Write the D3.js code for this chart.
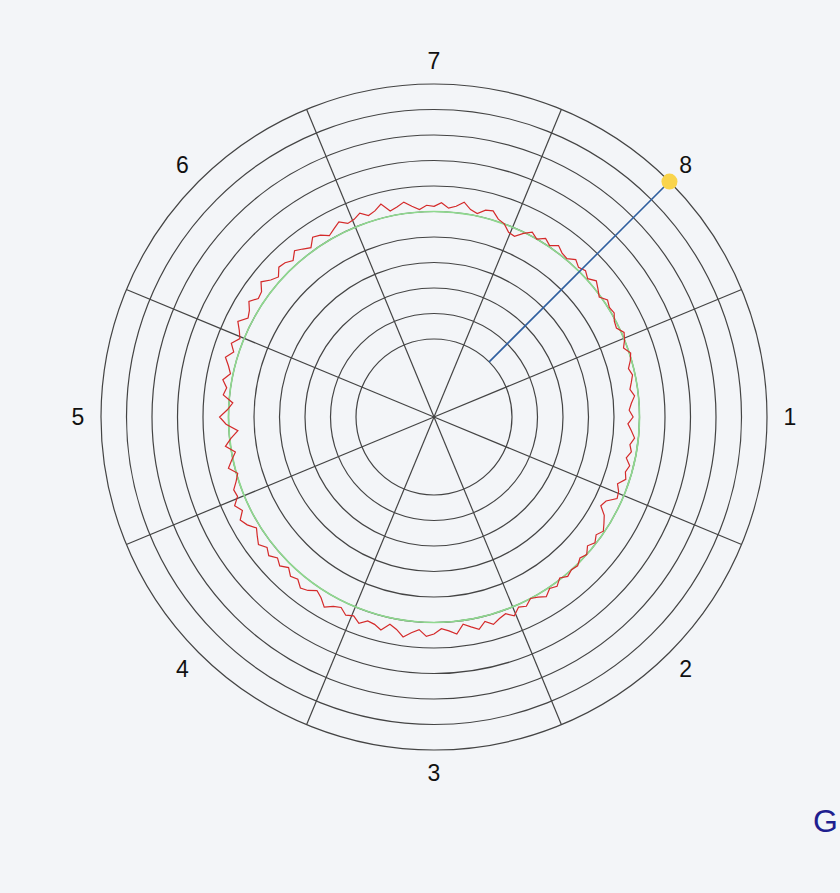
<!DOCTYPE html>
<html>
<head>
<meta charset="utf-8">
<script src="https://cdn.jsdelivr.net/npm/d3@7"></script>
<style>
  html, body { margin: 0; padding: 0; background: #f3f5f8; overflow: hidden; }
  svg { display: block; }
</style>
</head>
<body>
<svg id="chart" width="840" height="893"></svg>
<script>
// ---- data ----
const sectorLabels = ["1", "2", "3", "4", "5", "6", "7", "8"];
const ringValues = [0, 10, 20, 30, 40, 50, 60, 70, 80, 90, 100];
const referenceValue = 50;
const markerSector = "8";
const markerFrom = 0;
const markerTo = 100;
// measured trace, one value every 2 degrees (clockwise from sector 7)
const traceValues = [
  52, 53.5, 51.5, 52.5, 54.5, 52, 51, 53, 53.5, 51,
  50, 47.5, 47, 49.5, 51.5, 50, 52, 50.5, 52.5, 51,
  50.5, 52.5, 51, 52, 50.5, 52.5, 51, 49.5, 51.5, 50.5,
  51, 49.5, 49, 51, 50, 48.5, 50.5, 49.5, 48, 49,
  48, 47, 48.5, 47, 46, 47.5, 45.5, 47, 48.5, 47,
  48, 46.5, 48.5, 47.5, 48.5, 46, 47.5, 48, 44.5, 43.5,
  46.5, 48, 49.5, 48, 49.5, 48, 50, 49, 50.5, 50,
  51, 49.5, 51.5, 50.5, 52.5, 51, 50, 52, 51, 53.5,
  51.5, 52.5, 54, 52, 54.5, 53, 51.5, 55, 53.5, 52.5,
  54.5, 55.5, 53, 54.5, 56.5, 54, 52.5, 55.5, 54, 53.5,
  55.5, 53.5, 54.5, 52.5, 53.5, 55.5, 53, 51.5, 53.5, 54.5,
  52.5, 53.5, 51.5, 53.5, 52, 54, 52.5, 54.5, 53, 51.5,
  54, 55.5, 53, 55, 52.5, 53, 51, 49.5, 52.5, 50.5,
  48.5, 52, 49.5, 46.5, 51, 53.5, 50.5, 48.5, 52.5, 51.5,
  53.5, 51, 52.5, 54.5, 52, 54, 51.5, 53, 55, 52,
  53, 55, 52.5, 53, 55.5, 53, 51.5, 54, 53.5, 52,
  54.5, 53, 51.5, 54.5, 53.5, 51.5, 53, 54.5, 52.5, 53,
  54.5, 52.5, 53.5, 55.5, 52, 53, 54.5, 52.5, 51, 52.5
];
const footerText = "G";

// ---- layout ----
const cx = 434, cy = 417;
const svg = d3.select("#chart");
svg.append("rect").attr("width", 840).attr("height", 893).attr("fill", "#f3f5f8");
const g = svg.append("g").attr("transform", `translate(${cx},${cy})`);

const r = d3.scaleLinear().domain([0, 100]).range([78, 333]);
// sector scale: angle (radians, clockwise from north) of each sector centre
const sectorAngle = d3.scalePoint().domain(sectorLabels).range([Math.PI / 2, Math.PI / 2 + 2 * Math.PI * 7 / 8]);
const step = 2 * Math.PI / sectorLabels.length;
const traceAngle = d3.scaleLinear().domain([0, traceValues.length]).range([0, 2 * Math.PI]);

const px = (a, rad) => rad * Math.sin(a);
const py = (a, rad) => -rad * Math.cos(a);

// rings
g.selectAll("circle.ring").data(ringValues).join("circle")
  .attr("class", "ring")
  .attr("r", d => r(d))
  .attr("fill", "none")
  .attr("stroke", "#444")
  .attr("stroke-width", 1.2);

// spokes (sector boundaries)
g.selectAll("line.spoke").data(sectorLabels).join("line")
  .attr("class", "spoke")
  .attr("x1", 0).attr("y1", 0)
  .attr("x2", d => px(sectorAngle(d) + step / 2, r(100)))
  .attr("y2", d => py(sectorAngle(d) + step / 2, r(100)))
  .attr("stroke", "#444")
  .attr("stroke-width", 1.2);

// reference circle
g.append("circle")
  .attr("r", r(referenceValue))
  .attr("fill", "none")
  .attr("stroke", "#8fd98f")
  .attr("stroke-width", 1.6);

// trace
const line = d3.lineRadial()
  .angle((d, i) => traceAngle(i))
  .radius(d => r(d))
  .curve(d3.curveLinearClosed);
g.append("path")
  .datum(traceValues)
  .attr("d", line)
  .attr("fill", "none")
  .attr("stroke", "#d42a2a")
  .attr("stroke-width", 1.2);

// marker line + dot
const ma = sectorAngle(markerSector);
g.append("line")
  .attr("x1", px(ma, r(markerFrom))).attr("y1", py(ma, r(markerFrom)))
  .attr("x2", px(ma, r(markerTo))).attr("y2", py(ma, r(markerTo)))
  .attr("stroke", "#2f5f9f")
  .attr("stroke-width", 1.6);
g.append("circle")
  .attr("cx", px(ma, r(markerTo))).attr("cy", py(ma, r(markerTo)))
  .attr("r", 8)
  .attr("fill", "#f9d44c");

// sector labels
g.selectAll("text.lab").data(sectorLabels).join("text")
  .attr("class", "lab")
  .attr("x", d => px(sectorAngle(d), 356))
  .attr("y", d => py(sectorAngle(d), 356))
  .attr("text-anchor", "middle")
  .attr("dominant-baseline", "central")
  .attr("font-family", "Liberation Sans, Arial, sans-serif")
  .attr("font-size", 23)
  .attr("fill", "#111")
  .text(d => d);

// footer text
svg.append("text")
  .attr("x", 813).attr("y", 832)
  .attr("font-family", "Liberation Sans, Arial, sans-serif")
  .attr("font-size", 32)
  .attr("fill", "#1f1f8f")
  .text(footerText);
</script>
</body>
</html>
